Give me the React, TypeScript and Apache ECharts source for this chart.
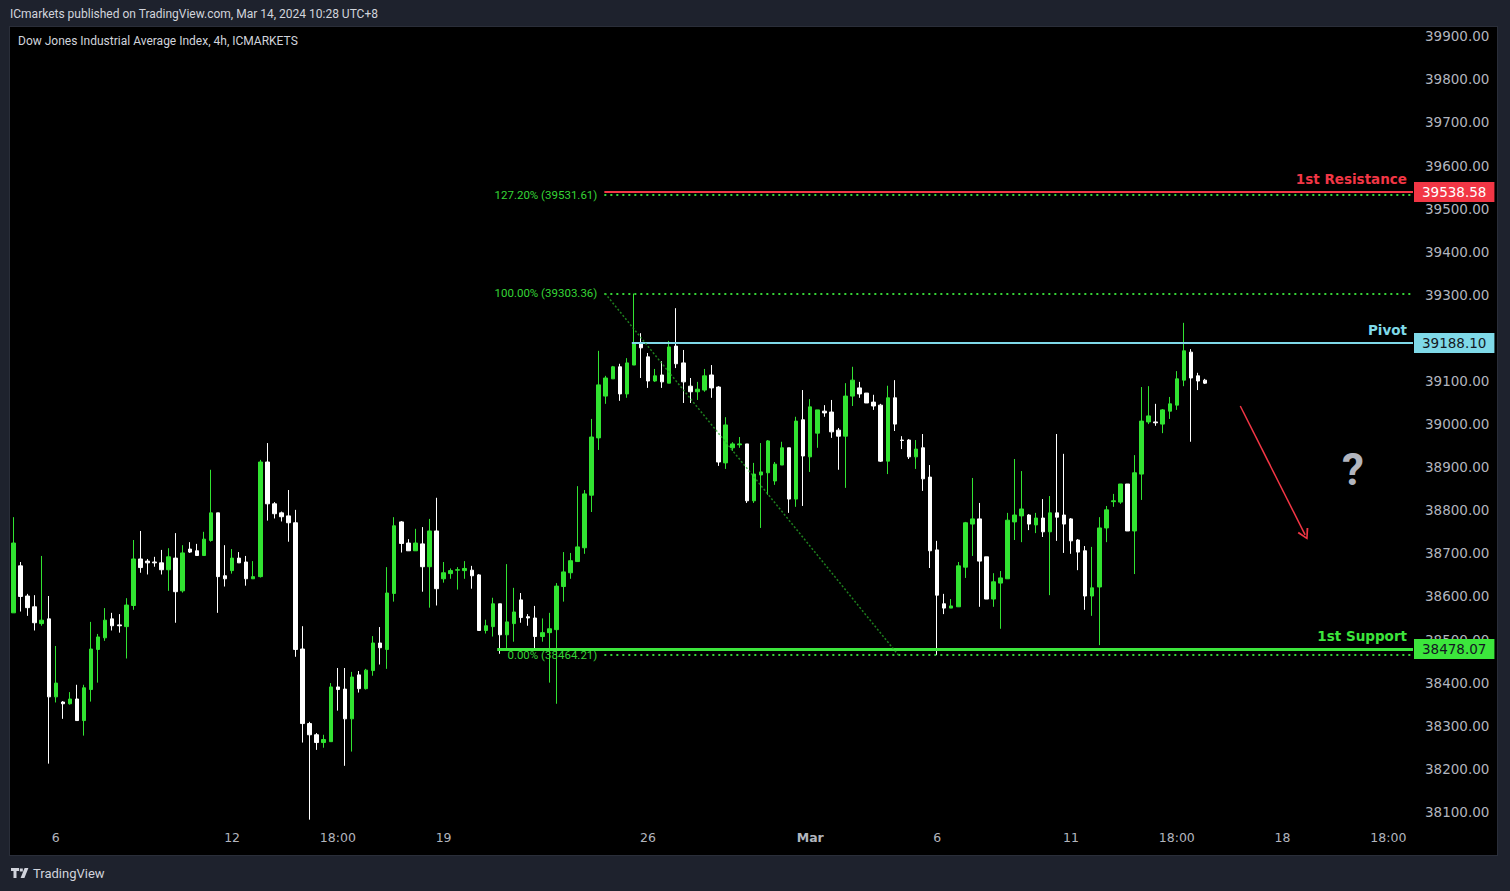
import React, { useEffect, useRef } from 'react';
import * as echarts from 'echarts';

// ---- Candle data (4h, Dow Jones / ICMARKETS) ----
const opens = [
  38562, 38671, 38601, 38576, 38537, 38548, 38367, 38355, 38351, 38362,
  38312, 38384, 38477, 38504, 38548, 38534, 38530, 38579, 38687, 38682,
  38680, 38678, 38662, 38689, 38613, 38710, 38706, 38695, 38730, 38794,
  38648, 38660, 38689, 38680, 38641, 38646, 38912, 38815, 38794, 38787,
  38771, 38478, 38305, 38279, 38261, 38263, 38390, 38385, 38316, 38418,
  38386, 38428, 38492, 38477, 38607, 38773, 38724, 38706, 38722, 38669,
  38752, 38641, 38653, 38661, 38660, 38661, 38650, 38521, 38530, 38583,
  38511, 38537, 38592, 38553, 38550, 38507, 38516, 38523, 38623, 38655,
  38681, 38713, 38835, 38968, 39065, 39105, 39133, 39070, 39137, 39186,
  39156, 39100, 39114, 39095, 39181, 39142, 39088, 39075, 39079, 39114,
  39086, 38910, 38945, 38952, 38954, 38822, 38882, 38887, 38868, 38905,
  38945, 38826, 39010, 38924, 38979, 39030, 39028, 38986, 38972, 39065,
  39084, 39072, 39051, 39044, 38914, 39061, 38963, 38963, 38924, 38945,
  38877, 38708, 38583, 38573, 38576, 38668, 38768, 38780, 38692, 38594,
  38631, 38641, 38773, 38787, 38789, 38766, 38782, 38750, 38794, 38789,
  38780, 38731, 38706, 38601, 38622, 38759, 38820, 38819, 38861, 38752,
  38884, 39005, 39005, 39000, 39030, 39044, 39102, 39167, 39112, 39102,
];
const closes = [
  38724, 38600, 38574, 38539, 38545, 38367, 38399, 38351, 38362, 38312,
  38388, 38478, 38506, 38545, 38532, 38532, 38580, 38687, 38667, 38678,
  38678, 38662, 38692, 38611, 38701, 38703, 38695, 38733, 38794, 38646,
  38641, 38689, 38678, 38641, 38646, 38912, 38815, 38792, 38785, 38771,
  38477, 38305, 38279, 38261, 38268, 38390, 38384, 38316, 38413, 38386,
  38429, 38492, 38481, 38608, 38764, 38723, 38706, 38724, 38669, 38752,
  38618, 38655, 38660, 38662, 38665, 38648, 38521, 38532, 38583, 38511,
  38541, 38564, 38551, 38550, 38507, 38516, 38525, 38624, 38657, 38683,
  38715, 38838, 38970, 39091, 39107, 39133, 39070, 39142, 39186, 39177,
  39100, 39112, 39098, 39179, 39140, 39098, 39075, 39081, 39112, 39084,
  38912, 38998, 38954, 38954, 38822, 38884, 38889, 38961, 38907, 38945,
  38826, 39007, 38926, 39040, 39033, 39026, 38982, 38972, 39065, 39102,
  39070, 39049, 39042, 38914, 39061, 39000, 38962, 38924, 38942, 38873,
  38706, 38603, 38573, 38578, 38671, 38771, 38780, 38682, 38594, 38634,
  38643, 38777, 38789, 38803, 38768, 38782, 38750, 38794, 38784, 38768,
  38729, 38703, 38601, 38620, 38759, 38801, 38822, 38861, 38752, 38887,
  39007, 39019, 39003, 39033, 39047, 39105, 39170, 39107, 39100, 39095,
];
const lows = [
  38562, 38565, 38555, 38521, 38532, 38212, 38354, 38316, 38349, 38312,
  38277, 38356, 38400, 38497, 38521, 38516, 38456, 38569, 38655, 38651,
  38669, 38651, 38613, 38539, 38609, 38701, 38695, 38695, 38727, 38562,
  38623, 38653, 38678, 38625, 38641, 38644, 38776, 38781, 38774, 38727,
  38460, 38261, 38082, 38244, 38249, 38263, 38335, 38207, 38240, 38377,
  38384, 38416, 38442, 38432, 38588, 38702, 38706, 38706, 38611, 38574,
  38579, 38632, 38641, 38616, 38641, 38618, 38521, 38514, 38507, 38467,
  38479, 38495, 38539, 38532, 38479, 38495, 38400, 38351, 38588, 38641,
  38681, 38699, 38796, 38940, 39047, 39105, 39054, 39061, 39137, 39107,
  39084, 39098, 39084, 39095, 39130, 39049, 39049, 39056, 39075, 39061,
  38903, 38896, 38938, 38945, 38817, 38817, 38759, 38836, 38859, 38905,
  38794, 38808, 38810, 38889, 38945, 39017, 38968, 38894, 38852, 39042,
  39061, 39049, 39033, 38912, 38884, 38984, 38942, 38919, 38896, 38845,
  38666, 38464, 38559, 38573, 38576, 38643, 38694, 38576, 38594, 38576,
  38525, 38641, 38731, 38726, 38754, 38747, 38738, 38603, 38729, 38701,
  38699, 38661, 38569, 38555, 38487, 38726, 38808, 38815, 38752, 38652,
  38824, 39000, 38996, 38979, 39012, 39033, 39088, 38959, 39079, 39093,
];
const highs = [
  38784, 38680, 38606, 38603, 38694, 38601, 38485, 38357, 38378, 38395,
  38395, 38541, 38513, 38573, 38562, 38559, 38596, 38731, 38752, 38687,
  38692, 38708, 38712, 38747, 38719, 38726, 38722, 38750, 38894, 38794,
  38719, 38710, 38703, 38694, 38682, 38917, 38956, 38819, 38797, 38847,
  38801, 38531, 38309, 38283, 38279, 38399, 38434, 38434, 38425, 38427,
  38432, 38508, 38529, 38668, 38784, 38775, 38733, 38757, 38761, 38780,
  38829, 38680, 38665, 38668, 38682, 38671, 38652, 38546, 38597, 38583,
  38675, 38620, 38608, 38559, 38578, 38549, 38562, 38631, 38703, 38701,
  38856, 38847, 39012, 39170, 39112, 39135, 39140, 39153, 39303, 39211,
  39165, 39128, 39146, 39193, 39269, 39172, 39107, 39098, 39128, 39137,
  39088, 39016, 38958, 38970, 38954, 38910, 38956, 38963, 38912, 38959,
  38945, 39017, 39079, 39058, 39033, 39044, 39056, 38991, 39095, 39133,
  39098, 39072, 39068, 39047, 39089, 39102, 38972, 38965, 38963, 38977,
  38905, 38729, 38606, 38594, 38680, 38773, 38875, 38817, 38692, 38654,
  38659, 38794, 38919, 38891, 38791, 38794, 38826, 38833, 38977, 38931,
  38782, 38733, 38717, 38715, 38784, 38810, 38838, 38861, 38861, 38928,
  39086, 39088, 39047, 39035, 39063, 39123, 39235, 39174, 39119, 39105,
];

// ---- Axes ----
const TOTAL_SLOTS = 199; // candle slots incl. empty future space
const tickIndex = [6, 31, 46, 61, 90, 113, 131, 150, 165, 180, 195];
const tickText = ['6', '12', '18:00', '19', '26', 'Mar', '6', '11', '18:00', '18', '18:00'];
const priceMin = 38000;
const priceMax = 39984.2;
const priceStep = 100;

// ---- Drawn levels ----
const levelNames = ['1st Resistance', 'Pivot', '1st Support'];
const levelPrices = [39538.58, 39188.1, 38478.07];
const levelStartSlot = [84.3, 88.2, 69.1];

const fibRatios = ['127.20%', '100.00%', '0.00%'];
const fibPrices = [39531.61, 39303.36, 38464.21];
const fibStartSlot = 84.3;
const fibTrendFrom = [84.4, 39303.36];
const fibTrendTo = [126.0, 38464.21];

const arrowFrom = [174.5, 39042];
const arrowTo = [183.7, 38743];
const questionAt = [190.5, 38893];

const TV_LOGO_D = 'M0 0H8V3H5.5V10H2.5V3H0Z M8.8 0.6H11.8V3.6H8.8Z M13.6 0H17.4L13.4 10H9.6Z';
echarts.graphic.registerShape('tvlogo', echarts.graphic.extendPath(TV_LOGO_D, {}));

export default function App() {
  const ref = useRef<HTMLDivElement>(null);

  useEffect(() => {
    document.body.style.margin = '0';
    const chart = echarts.init(ref.current!, null, { renderer: 'svg' });

    const UP = '#31e331';
    const DOWN = '#ffffff';
    const RED = '#f23645';
    const BLUE = '#7fd9e8';
    const GREEN = '#3ce63c';
    const FIB = '#36d436';
    const AXIS_TXT = '#b2b5be';
    const FONT = 'Roboto, "Liberation Sans", sans-serif';
    const WIDE = '"DejaVu Sans", Verdana, sans-serif';

    const levelColors = [RED, BLUE, GREEN];
    const levelWidths = [2, 2, 3];
    const tagTextColors = ['#ffffff', '#131722', '#131722'];

    const categories = Array.from({ length: TOTAL_SLOTS }, (_, i) => String(i));
    const labelAt: Record<number, string> = {};
    tickIndex.forEach((t, k) => (labelAt[t] = tickText[k]));

    const candles = opens.map((o, i) => [o, closes[i], lows[i], highs[i]]);

    const lines: any[] = [];
    fibPrices.forEach((p, k) => {
      lines.push([
        {
          coord: [fibStartSlot, p],
          lineStyle: { color: FIB, width: 2, type: [2, 4] },
          label: {
            show: true,
            position: 'start',
            formatter: `${fibRatios[k]} (${p.toFixed(2)})`,
            color: FIB,
            fontSize: 11.5,
            fontFamily: FONT,
            distance: 7,
          },
        },
        { coord: [TOTAL_SLOTS, p] },
      ]);
    });
    levelPrices.forEach((p, k) => {
      const c = levelColors[k];
      lines.push([
        {
          coord: [levelStartSlot[k], p],
          lineStyle: { color: c, width: levelWidths[k], type: 'solid' },
          label: {
            show: true,
            position: 'insideEndTop',
            formatter: levelNames[k],
            color: c,
            fontSize: 13.5,
            fontWeight: 'bold',
            fontFamily: WIDE,
            distance: 6,
          },
        },
        { coord: [TOTAL_SLOTS, p] },
      ]);
      lines.push([
        {
          coord: [TOTAL_SLOTS - 1, p],
          lineStyle: { color: c, width: levelWidths[k], type: 'solid' },
          label: {
            show: true,
            position: 'end',
            formatter: p.toFixed(2),
            color: tagTextColors[k],
            backgroundColor: c,
            padding: [3, 8, 3, 8],
            fontSize: 13.5,
            fontFamily: WIDE,
            distance: 1,
          },
        },
        { coord: [TOTAL_SLOTS, p] },
      ]);
    });
    lines.push([
      {
        coord: fibTrendFrom,
        lineStyle: { color: 'rgba(40,170,40,0.75)', width: 1.5, type: [2, 2] },
        label: { show: false },
      },
      { coord: fibTrendTo },
    ]);
    lines.push([
      {
        coord: arrowFrom,
        lineStyle: { color: RED, width: 1.5, type: 'solid' },
        label: { show: false },
        symbol: 'none',
      },
      {
        coord: arrowTo,
        symbol: 'path://M0,10 L5,0 L10,10 L8.6,10.8 L5,3 L1.4,10.8 Z',
        symbolSize: [12, 11],
      },
    ]);

    // axis labels hidden where a price tag sits on top of them (as the platform does)
    const hiddenTick = (v: number) => levelPrices.some((p) => Math.abs(p - v) < 15);

    const option: any = {
      animation: false,
      backgroundColor: 'transparent',
      textStyle: { fontFamily: FONT },
      grid: { left: 10, right: 97, top: 0, bottom: 36, containLabel: false },
      xAxis: [
        {
          type: 'category',
          data: categories,
          boundaryGap: true,
          offset: -28,
          axisLine: { show: false },
          axisTick: { show: false },
          splitLine: { show: false },
          axisLabel: {
            interval: 0,
            margin: 4,
            color: AXIS_TXT,
            fontSize: 12.5,
            fontFamily: WIDE,
            formatter: (_v: string, idx: number) => {
              const t = labelAt[idx];
              if (!t) return '';
              return t === 'Mar' ? '{b|Mar}' : t;
            },
            rich: { b: { fontWeight: 'bold', color: AXIS_TXT, fontSize: 12.5, fontFamily: WIDE } },
          },
        },
        { type: 'value', min: 0, max: TOTAL_SLOTS, show: false },
      ],
      yAxis: {
        type: 'value',
        position: 'right',
        min: priceMin,
        max: priceMax,
        interval: priceStep,
        axisLine: { show: false },
        axisTick: { show: false },
        splitLine: { show: false },
        axisLabel: {
          color: AXIS_TXT,
          fontSize: 13.5,
          fontFamily: WIDE,
          margin: 12,
          showMinLabel: false,
          showMaxLabel: false,
          formatter: (v: number) => (hiddenTick(v) ? '' : v.toFixed(2)),
        },
      },
      series: [
        {
          type: 'candlestick',
          xAxisIndex: 0,
          yAxisIndex: 0,
          data: candles,
          barWidth: 4,
          silent: true,
          itemStyle: {
            color: UP,
            color0: DOWN,
            borderColor: UP,
            borderColor0: DOWN,
            borderWidth: 1,
          },
        },
        {
          type: 'line',
          xAxisIndex: 1,
          yAxisIndex: 0,
          data: [],
          silent: true,
          z: 5,
          markLine: {
            silent: true,
            symbol: ['none', 'none'],
            animation: false,
            z: 5,
            data: lines,
          },
          markPoint: {
            silent: true,
            animation: false,
            data: [
              {
                coord: questionAt,
                symbol: 'circle',
                symbolSize: 1,
                itemStyle: { color: 'rgba(0,0,0,0)' },
                label: {
                  show: true,
                  position: 'inside',
                  formatter: '?',
                  color: AXIS_TXT,
                  fontSize: 44,
                  fontWeight: 'bold',
                  fontFamily: FONT,
                },
              },
            ],
          },
        },
      ],
      graphic: [
        {
          type: 'text',
          x: 10,
          y: 14,
          style: {
            text: 'ICmarkets published on TradingView.com, Mar 14, 2024 10:28 UTC+8',
            fill: '#d1d4dc',
            font: `12px ${FONT}`,
            verticalAlign: 'middle',
          },
        },
        {
          type: 'text',
          x: 18,
          y: 41,
          style: {
            text: 'Dow Jones Industrial Average Index, 4h, ICMARKETS',
            fill: '#d1d4dc',
            font: `12px ${FONT}`,
            verticalAlign: 'middle',
          },
        },
        {
          type: 'tvlogo',
          x: 11,
          y: 868,
          scaleX: 1,
          scaleY: 1,
          style: { fill: '#d1d4dc' },
        },
        {
          type: 'text',
          x: 33,
          y: 873,
          style: {
            text: 'TradingView',
            fill: '#d1d4dc',
            font: `13px ${FONT}`,
            verticalAlign: 'middle',
          },
        },
      ],
    };

    chart.setOption(option);
    return () => chart.dispose();
  }, []);

  return (
    <div style={{ position: 'relative', width: 1510, height: 891, background: '#1e222d', overflow: 'hidden' }}>
      <div
        style={{
          position: 'absolute',
          left: 10,
          top: 27,
          width: 1487,
          height: 828,
          background: '#000000',
          boxShadow: '0 0 0 1px #2a2e39',
        }}
      />
      <div ref={ref} style={{ position: 'absolute', left: 0, top: 0, width: 1510, height: 891 }} />
    </div>
  );
}
